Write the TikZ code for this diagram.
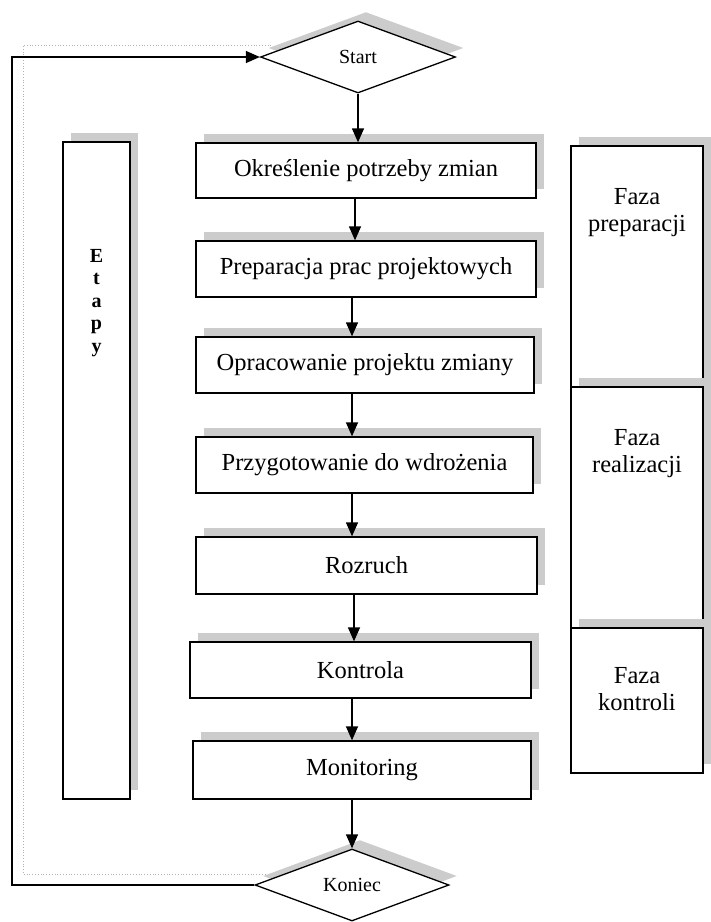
\documentclass[tikz,border=0pt]{standalone}
\usepackage{fontspec}
\setmainfont{Liberation Serif}
\usetikzlibrary{shapes.geometric,arrows.meta,shadows}
\begin{document}
\begin{tikzpicture}[x=1pt,y=-1pt,
  boxshade/.style={general shadow={fill=black!20, shadow xshift=8pt, shadow yshift=9pt}},
  stepbox/.style={rectangle, draw, line width=1.3pt, fill=white, inner sep=0pt,
    boxshade, font=\fontsize{24.5}{28}\selectfont},
  endpoint/.style={diamond, draw, line width=1.3pt, fill=white, inner sep=0pt,
    boxshade, font=\fontsize{20}{24}\selectfont},
  sidebox/.style={rectangle, draw, line width=1.3pt, fill=white, inner sep=0pt, boxshade},
  sidetext/.style={align=center, inner sep=0pt, anchor=base,
    font=\fontsize{24.5}{27}\selectfont},
  arr/.style={-{Triangle[length=14pt,width=12pt]}, line width=1.3pt},
  loopshade/.style={draw=black!30, dotted, line width=0.8pt}
]
\useasboundingbox (0,0) rectangle (711,922);

% side column: stages of the process (text anchored at the baseline of its last line)
\node[sidebox, minimum width=67pt, minimum height=657pt] (etapy) at (96.5,470.5) {};
\node[align=center, inner sep=0pt, anchor=base, font=\fontsize{20}{22.5}\bfseries\selectfont]
  (etapytxt) at (96.5,352) {E\\t\\a\\p\\y};

% phases on the right
\node[sidebox, minimum width=132pt, minimum height=241pt] (fprep) at (637,266.5) {};
\node[sidebox, minimum width=132pt, minimum height=241pt] (freal) at (637,507.5) {};
\node[sidebox, minimum width=132pt, minimum height=145pt] (fkont) at (637,700.5) {};
\node[sidetext] (tprep) at (637,231) {Faza\\preparacji};
\node[sidetext] (treal) at (637,472) {Faza\\realizacji};
\node[sidetext] (tkont) at (637,710) {Faza\\kontroli};

% corner of the feedback line
\coordinate (lc) at (12,885);

% main flow
\node[endpoint, minimum width=195pt, minimum height=72pt] (start) at (358,57) {Start};
\node[stepbox, minimum width=340pt, minimum height=55pt] (b1) at (366,170.5) {Określenie potrzeby zmian};
\node[stepbox, minimum width=340pt, minimum height=56pt] (b2) at (366,269) {Preparacja prac projektowych};
\node[stepbox, minimum width=338pt, minimum height=56pt] (b3) at (365,365) {Opracowanie projektu zmiany};
\node[stepbox, minimum width=337pt, minimum height=56pt] (b4) at (364.5,465) {Przygotowanie do wdrożenia};
\node[stepbox, minimum width=341pt, minimum height=57pt] (b5) at (366.5,565.5) {Rozruch};
\node[stepbox, minimum width=341pt, minimum height=56pt] (b6) at (360.5,670) {Kontrola};
\node[stepbox, minimum width=338pt, minimum height=58pt] (b7) at (362,770) {Monitoring};
\node[endpoint, minimum width=194pt, minimum height=72pt] (koniec) at (352,885) {Koniec};

% faint shadow of the feedback line
\draw[loopshade] ([shift={(11,-11)}]koniec.west) -- ([shift={(11,-11)}]lc)
  |- ([shift={(11,-12)}]start.west);

% connectors
\draw[arr] (start.south) -- (b1.north -| start.south);
\draw[arr] (b1.south -| 355,0) -- (b2.north -| 355,0);
\draw[arr] (b2.south -| 352,0) -- (b3.north -| 352,0);
\draw[arr] (b3.south -| 352,0) -- (b4.north -| 352,0);
\draw[arr] (b4.south -| 352,0) -- (b5.north -| 352,0);
\draw[arr] (b5.south -| 354,0) -- (b6.north -| 354,0);
\draw[arr] (b6.south -| 352,0) -- (b7.north -| 352,0);
\draw[arr] (b7.south -| koniec.north) -- (koniec.north);
\draw[arr] (koniec.west) -- (lc) |- (start.west);
\end{tikzpicture}
\end{document}
